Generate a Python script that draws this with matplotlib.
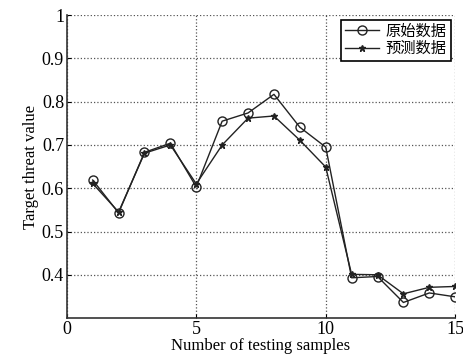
import matplotlib
matplotlib.use("Agg")
import matplotlib.pyplot as plt

plt.rcParams['font.family'] = ['Liberation Serif', 'Noto Sans CJK SC']

samples = list(range(1, 16))
original = [0.619, 0.543, 0.683, 0.704, 0.603, 0.755, 0.774, 0.817, 0.741, 0.695,
            0.393, 0.396, 0.336, 0.358, 0.349]
predicted = [0.611, 0.545, 0.681, 0.700, 0.610, 0.700, 0.762, 0.767, 0.711, 0.649,
             0.401, 0.400, 0.356, 0.371, 0.373]
xticks = [0, 5, 10, 15]
yticks = [0.4, 0.5, 0.6, 0.7, 0.8, 0.9, 1.0]
ytick_labels = ["0.4", "0.5", "0.6", "0.7", "0.8", "0.9", "1"]

fig = plt.figure(figsize=(4.64, 3.61), dpi=100)
ax = fig.add_axes([0.144, 0.119, 0.837, 0.839])

ax.plot(samples, original, color="#222222", lw=1.0, marker="o", ms=6.5,
        mfc="none", mec="#222222", mew=1.0, label="原始数据")
ax.plot(samples, predicted, color="#222222", lw=1.0, marker="*", ms=5,
        mfc="#222222", mec="#222222", label="预测数据")

ax.set_xlim(0, 15)
ax.set_ylim(0.3, 1.0)
ax.set_xticks(xticks)
ax.set_yticks(yticks)
ax.set_yticklabels(ytick_labels)
ax.tick_params(direction="in", labelsize=13, length=3, pad=2)
ax.grid(True, linestyle=":", color="#555555", lw=0.9)
ax.spines[["top", "right"]].set_visible(False)
ax.spines[["left", "bottom"]].set_linewidth(1.2)
ax.spines[["left", "bottom"]].set_color("#333333")
ax.set_xlabel("Number of testing samples", fontsize=12, labelpad=0)
ax.set_ylabel("Target threat value", fontsize=12, labelpad=2)

leg = ax.legend(loc="upper right", fontsize=11, fancybox=False, framealpha=1,
                edgecolor="black", handlelength=2.2, borderpad=0.3,
                labelspacing=0.2, handletextpad=0.4, borderaxespad=0.3)
leg.get_frame().set_linewidth(1.2)

fig.savefig("out.png", dpi=100, facecolor="white")
